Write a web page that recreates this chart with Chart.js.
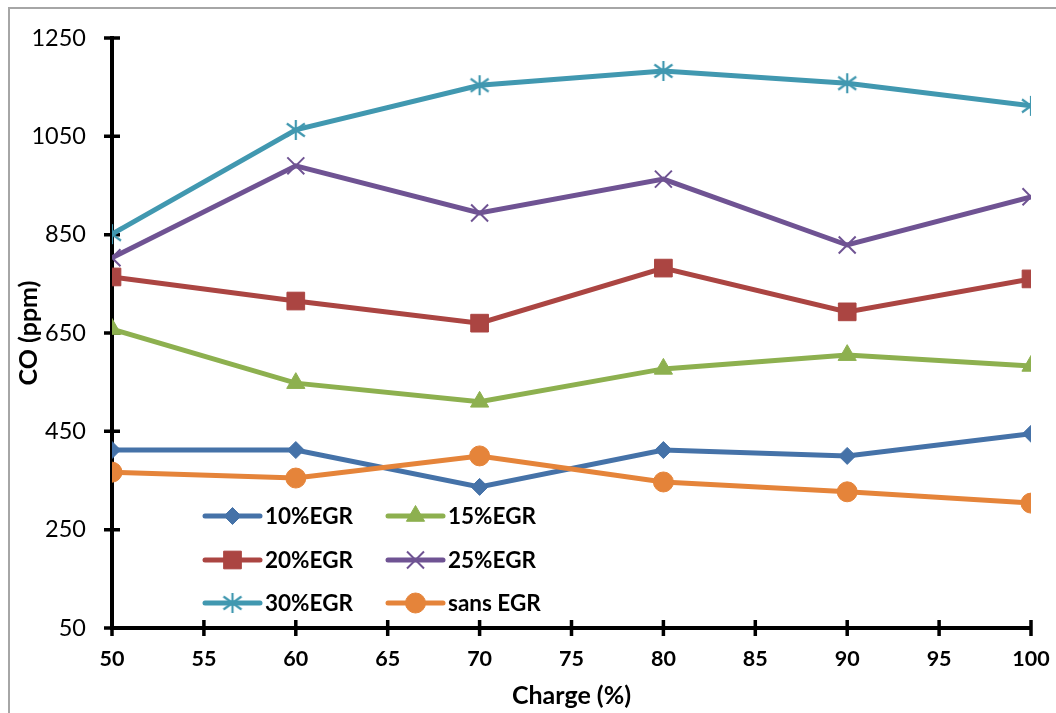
<!DOCTYPE html>
<html>
<head>
<meta charset="utf-8">
<script src="https://cdn.jsdelivr.net/npm/chart.js@4.4.0/dist/chart.umd.min.js"></script>
<style>
  body { margin: 0; background: #fff; }
  .wrap { position: relative; width: 1056px; height: 713px; overflow: hidden; }
  .frame { position: absolute; left: 8px; top: 7px; width: 1100px; height: 760px;
           border-top: 2px solid #a6a6a6; border-left: 2px solid #a6a6a6; }
  canvas { position: absolute; left: 0; top: 0; }
</style>
</head>
<body>
<div class="wrap">
  <div class="frame"></div>
  <canvas id="coChart" width="1056" height="713"></canvas>
</div>
<script>
// Data
const charge = [50, 60, 70, 80, 90, 100];
const egr10 = [412, 412, 337, 412, 400, 445];
const egr15 = [658, 548, 510, 577, 605, 583];
const egr20 = [764, 715, 670, 782, 693, 760];
const egr25 = [803, 990, 894, 963, 829, 927];
const egr30 = [851, 1063, 1154, 1183, 1158, 1112];
const sansEgr = [367, 355, 400, 347, 327, 304];

const xTicks = [50, 55, 60, 65, 70, 75, 80, 85, 90, 95, 100];
const yTicks = [50, 250, 450, 650, 850, 1050, 1250];

const FONT = 'Lato, "Open Sans", sans-serif';

// asterisk marker (X plus vertical bar)
function makeAsterisk(color) {
    const c = document.createElement('canvas');
    c.width = 22;
    c.height = 22;
    const g = c.getContext('2d');
    g.strokeStyle = color;
    g.lineWidth = 2.2;
    g.beginPath();
    g.moveTo(11, 1); g.lineTo(11, 21);
    g.moveTo(2, 4.5); g.lineTo(20, 17.5);
    g.moveTo(2, 17.5); g.lineTo(20, 4.5);
    g.stroke();
    return c;
}

function points(ys) {
    return charge.map((x, i) => ({ x: x, y: ys[i] }));
}

function series(label, ys, color, style, radius, bw) {
    return {
        label: label,
        data: points(ys),
        borderColor: color,
        backgroundColor: color,
        borderWidth: 5,
        pointStyle: style,
        pointRadius: radius,
        pointHoverRadius: radius,
        pointBorderWidth: bw,
        pointBackgroundColor: color,
        pointBorderColor: color,
        tension: 0
    };
}

const datasets = [
    series('10%EGR', egr10, '#4572a8', 'rectRot', 8.5, 1),
    series('15%EGR', egr15, '#8db04f', 'triangle', 10.5, 1),
    series('20%EGR', egr20, '#ab4542', 'rect', 12.5, 1),
    series('25%EGR', egr25, '#6f5393', 'crossRot', 12, 2),
    series('30%EGR', egr30, '#4198b0', makeAsterisk('#4198b0'), 11, 0),
    series('sans EGR', sansEgr, '#e5843a', 'circle', 10, 1)
];
// later series on top, as in the original
datasets.forEach((d, i) => { d.order = datasets.length - i; });

// tick marks crossing the axes
const crossTicks = {
    id: 'crossTicks',
    beforeDatasetsDraw(chart) {
        const ctx = chart.ctx;
        const xs = chart.scales.x;
        const ys = chart.scales.y;
        const area = chart.chartArea;
        ctx.save();
        ctx.strokeStyle = '#000';
        ctx.lineWidth = 3.5;
        ctx.beginPath();
        xTicks.forEach(v => {
            const px = xs.getPixelForValue(v);
            ctx.moveTo(px, area.bottom - 8);
            ctx.lineTo(px, area.bottom + 8);
        });
        yTicks.forEach(v => {
            const py = ys.getPixelForValue(v);
            ctx.moveTo(area.left - 8, py);
            ctx.lineTo(area.left + 8, py);
        });
        ctx.stroke();
        ctx.restore();
    }
};

// legend inside the plot, two columns
const legendSlots = [
    { x: 205, y: 516 }, { x: 388, y: 516 },
    { x: 205, y: 560 }, { x: 388, y: 560 },
    { x: 205, y: 603 }, { x: 388, y: 603 }
];
const insideLegend = {
    id: 'insideLegend',
    afterDraw(chart) {
        const ctx = chart.ctx;
        ctx.save();
        chart.data.datasets.forEach((ds, i) => {
            const slot = legendSlots[i];
            ctx.strokeStyle = ds.borderColor;
            ctx.lineWidth = 5;
            ctx.lineCap = 'round';
            ctx.beginPath();
            ctx.moveTo(slot.x, slot.y);
            ctx.lineTo(slot.x + 55, slot.y);
            ctx.stroke();
            ctx.lineCap = 'butt';
            ctx.fillStyle = ds.pointBackgroundColor;
            ctx.strokeStyle = ds.pointBorderColor;
            ctx.lineWidth = ds.pointBorderWidth;
            Chart.helpers.drawPoint(ctx, {
                pointStyle: ds.pointStyle,
                radius: ds.pointRadius,
                rotation: 0,
                borderWidth: ds.pointBorderWidth
            }, slot.x + 27.5, slot.y);
            ctx.fillStyle = '#000';
            ctx.font = 'bold 22.5px ' + FONT;
            ctx.textBaseline = 'middle';
            ctx.textAlign = 'left';
            ctx.fillText(ds.label, slot.x + 60, slot.y + 1);
        });
        ctx.restore();
    }
};

const ctx = document.getElementById('coChart').getContext('2d');

const coChart = new Chart(ctx, {
    type: 'line',
    data: { datasets: datasets },
    plugins: [crossTicks, insideLegend],
    options: {
        responsive: false,
        animation: false,
        layout: {
            padding: { top: 38, right: 25, bottom: 0, left: 0 }
        },
        plugins: {
            legend: { display: false },
            tooltip: { enabled: false }
        },
        scales: {
            x: {
                type: 'linear',
                min: 50,
                max: 100,
                afterBuildTicks: scale => { scale.ticks = xTicks.map(v => ({ value: v })); },
                afterFit: scale => {
                    scale.height = 85;
                    scale.paddingLeft = 0;
                    scale.paddingRight = 0;
                },
                ticks: {
                    color: '#000',
                    padding: 18,
                    callback: v => String(v),
                    font: { family: FONT, size: 21.5, weight: 'bold' }
                },
                grid: { display: false, drawTicks: false },
                border: { display: true, color: '#000', width: 4 },
                title: {
                    display: true,
                    text: 'Charge (%)',
                    color: '#000',
                    padding: { top: 0, bottom: 2 },
                    font: { family: FONT, size: 25, weight: 'bold' }
                }
            },
            y: {
                min: 50,
                max: 1250,
                afterBuildTicks: scale => { scale.ticks = yTicks.map(v => ({ value: v })); },
                afterFit: scale => {
                    scale.width = 112;
                    scale.paddingTop = 0;
                    scale.paddingBottom = 0;
                },
                ticks: {
                    color: '#000',
                    padding: 26,
                    callback: v => String(v),
                    font: { family: FONT, size: 23.5 }
                },
                grid: { display: false, drawTicks: false },
                border: { display: true, color: '#000', width: 4 },
                title: {
                    display: true,
                    text: 'CO (ppm)',
                    color: '#000',
                    padding: { top: 14, bottom: 0 },
                    font: { family: FONT, size: 25, weight: 'bold' }
                }
            }
        }
    }
});
</script>
</body>
</html>
